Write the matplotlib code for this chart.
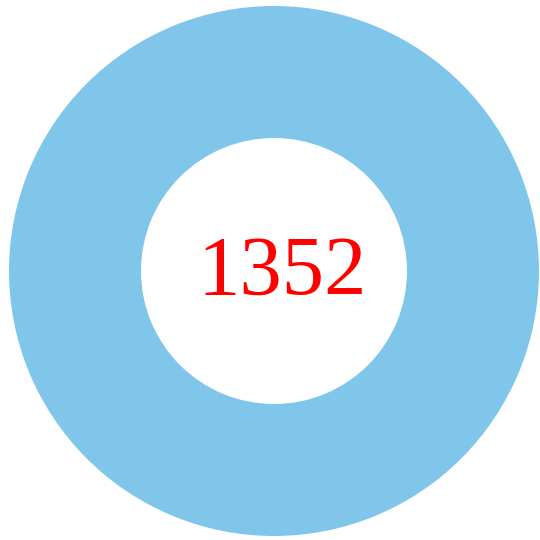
import matplotlib
matplotlib.use("Agg")
import matplotlib.pyplot as plt

# donut data
labels = ["total"]
values = [1352]
center_label = "1352"

ring_color = "#80C6EB"

fig = plt.figure(figsize=(5.4, 5.4), dpi=100)
ax = fig.add_axes([0, 0, 1, 1])

ax.pie(values, labels=None, colors=[ring_color], startangle=90,
       center=(274, 269), radius=265,
       wedgeprops=dict(width=132, edgecolor="none"))

ax.set_xlim(0, 540)
ax.set_ylim(0, 540)
ax.set_aspect("equal")
ax.axis("off")

ax.text(282, 245, center_label, color="red", fontsize=61,
        family=["Liberation Serif", "DejaVu Serif"],
        ha="center", va="baseline")

fig.savefig("out.png", dpi=100)
